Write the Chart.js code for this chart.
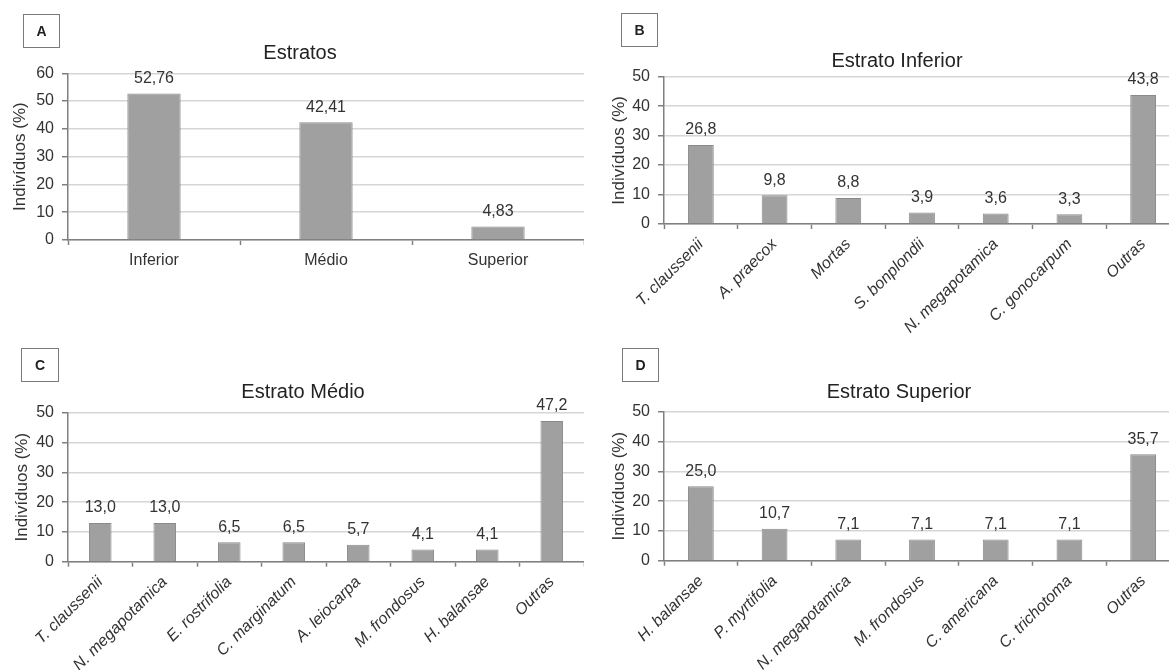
<!DOCTYPE html>
<html>
<head>
<meta charset="utf-8">
<script src="https://cdn.jsdelivr.net/npm/chart.js@4.4.0/dist/chart.umd.min.js"></script>
<style>
  html, body { margin: 0; padding: 0; background: #fff; }
  body { position: relative; width: 1169px; height: 670px; overflow: hidden;
         font-family: "Liberation Sans", Arial, sans-serif; }
  canvas { position: absolute; }
  .title { position: absolute; transform: translate(-50%, -50%); font-size: 20px;
           color: #222; white-space: nowrap; }
  .tag { position: absolute; box-sizing: border-box; border: 1.5px solid #7a7a7a;
         font-weight: bold; font-size: 14px; color: #222;
         display: flex; align-items: center; justify-content: center; }
</style>
</head>
<body>
<canvas id="cA"></canvas>
<canvas id="cB"></canvas>
<canvas id="cC"></canvas>
<canvas id="cD"></canvas>

<div class="tag" style="left:23px;top:14px;width:37px;height:34px;">A</div>
<div class="tag" style="left:621px;top:13px;width:37px;height:34px;">B</div>
<div class="tag" style="left:21px;top:348px;width:38px;height:34px;">C</div>
<div class="tag" style="left:622px;top:348px;width:37px;height:34px;">D</div>

<div class="title" style="left:300px;top:52px;">Estratos</div>
<div class="title" style="left:897px;top:60px;">Estrato Inferior</div>
<div class="title" style="left:303px;top:391px;">Estrato Médio</div>
<div class="title" style="left:899px;top:391px;">Estrato Superior</div>

<script>
// Share of individuals (%) per stratum
const estratos = ['Inferior', 'Médio', 'Superior'];
const estratosPct = [52.76, 42.41, 4.83];

// Lower stratum: main species
const inferiorSpp = ['T. claussenii', 'A. praecox', 'Mortas', 'S. bonplondii',
                     'N. megapotamica', 'C. gonocarpum', 'Outras'];
const inferiorPct = [26.8, 9.8, 8.8, 3.9, 3.6, 3.3, 43.8];

// Middle stratum: main species
const medioSpp = ['T. claussenii', 'N. megapotamica', 'E. rostrifolia', 'C. marginatum',
                  'A. leiocarpa', 'M. frondosus', 'H. balansae', 'Outras'];
const medioPct = [13.0, 13.0, 6.5, 6.5, 5.7, 4.1, 4.1, 47.2];

// Upper stratum: main species
const superiorSpp = ['H. balansae', 'P. myrtifolia', 'N. megapotamica', 'M. frondosus',
                     'C. americana', 'C. trichotoma', 'Outras'];
const superiorPct = [25.0, 10.7, 7.1, 7.1, 7.1, 7.1, 35.7];

// Y-axis tick values
const yTicksEstratos = [0, 10, 20, 30, 40, 50, 60];
const yTicksEspecies = [0, 10, 20, 30, 40, 50];

const FONT = '"Liberation Sans", Arial, sans-serif';
const TEXT = '#333';
const AXIS = '#808080';

// Value printed above each bar, decimal comma
const valueLabels = {
  id: 'valueLabels',
  afterDatasetsDraw(chart, args, opts) {
    const ctx = chart.ctx;
    const meta = chart.getDatasetMeta(0);
    const values = chart.data.datasets[0].data;
    ctx.save();
    ctx.font = '16px ' + FONT;
    ctx.fillStyle = TEXT;
    ctx.textAlign = 'center';
    ctx.textBaseline = 'middle';
    meta.data.forEach((bar, i) => {
      ctx.fillText(values[i].toFixed(opts.decimals).replace('.', ','), bar.x, bar.y - 15);
    });
    ctx.restore();
  }
};

function panel(id, g, labels, values, yTicks, decimals, rotated) {
  const cv = document.getElementById(id);
  cv.width = g.w; cv.height = g.h;
  cv.style.left = g.x + 'px'; cv.style.top = g.y + 'px';
  new Chart(cv, {
    type: 'bar',
    data: {
      labels: labels,
      datasets: [{
        data: values,
        backgroundColor: '#a0a0a0',
        borderColor: '#8a8a8a',
        borderWidth: 1,
        barPercentage: g.bar,
        categoryPercentage: 1
      }]
    },
    plugins: [valueLabels],
    options: {
      responsive: false,
      animation: false,
      devicePixelRatio: 1,
      layout: { padding: { left: 0, right: 0, top: g.top, bottom: 0 } },
      plugins: {
        legend: { display: false },
        tooltip: { enabled: false },
        valueLabels: { decimals: decimals }
      },
      scales: {
        x: {
          offset: true,
          grid: { display: true, drawOnChartArea: false, drawTicks: true, offset: true,
                  tickLength: 5, tickColor: AXIS, tickWidth: 1.5 },
          border: { display: true, color: AXIS, width: 1.5 },
          ticks: {
            autoSkip: false,
            maxRotation: rotated ? 45 : 0,
            minRotation: rotated ? 45 : 0,
            padding: 6,
            color: TEXT,
            font: { family: FONT, size: 16, style: rotated ? 'italic' : 'normal' }
          },
          afterFit(s) { s.height = g.h - g.bottom; }
        },
        y: {
          min: yTicks[0],
          max: yTicks[yTicks.length - 1],
          ticks: { stepSize: yTicks[1] - yTicks[0], padding: 8, color: TEXT,
                   font: { family: FONT, size: 16 } },
          grid: { color: '#d6d6d6', lineWidth: 1.5, tickLength: 6, tickColor: AXIS },
          border: { display: true, color: AXIS, width: 1.5 },
          title: { display: true, text: 'Indivíduos (%)', color: TEXT,
                   font: { family: FONT, size: 17 }, padding: { top: g.titlePad, bottom: 0 } },
          afterFit(s) { s.width = g.left; }
        }
      }
    }
  });
}

panel('cA', { x: 0,   y: 0,   w: 584, h: 300, left: 68, top: 73.3, bottom: 240,   bar: 0.31, titlePad: 10 },
      estratos, estratosPct, yTicksEstratos, 2, false);
panel('cB', { x: 590, y: 0,   w: 590, h: 345, left: 74, top: 76.7, bottom: 224,   bar: 0.35, titlePad: 19 },
      inferiorSpp, inferiorPct, yTicksEspecies, 1, true);
panel('cC', { x: 0,   y: 330, w: 584, h: 340, left: 68, top: 82.7, bottom: 231.7, bar: 0.35, titlePad: 12 },
      medioSpp, medioPct, yTicksEspecies, 1, true);
panel('cD', { x: 590, y: 330, w: 590, h: 340, left: 74, top: 81.7, bottom: 230.7, bar: 0.35, titlePad: 19 },
      superiorSpp, superiorPct, yTicksEspecies, 1, true);
</script>
</body>
</html>
